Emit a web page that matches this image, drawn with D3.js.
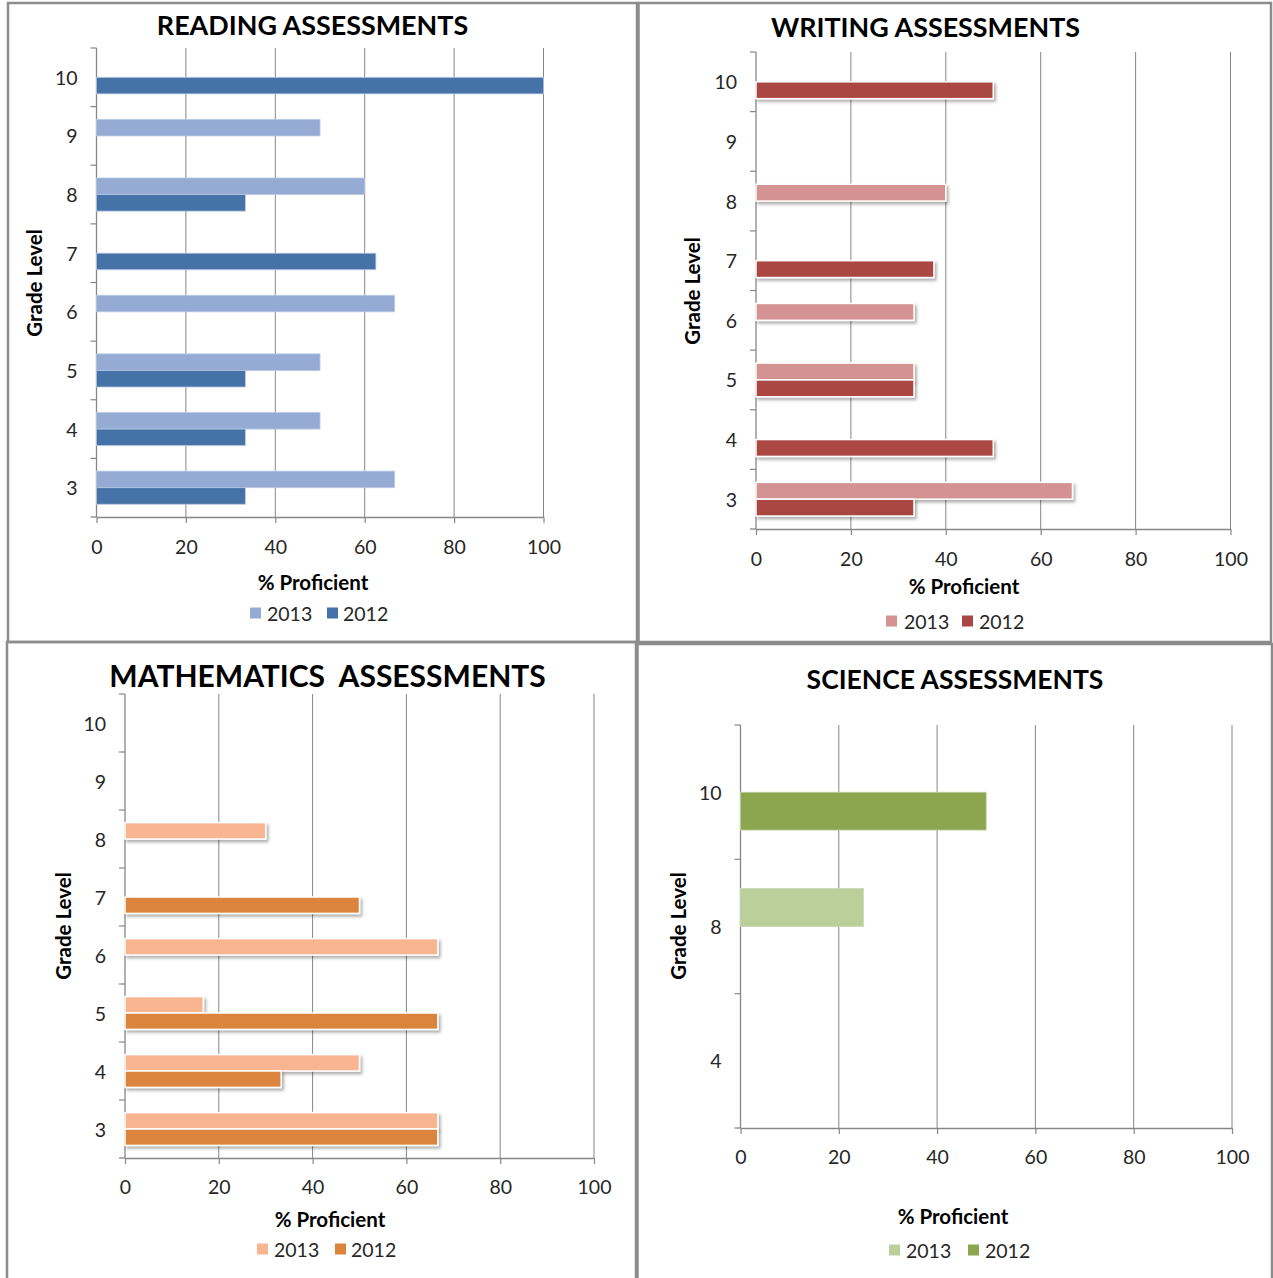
<!DOCTYPE html>
<html><head><meta charset="utf-8">
<script src="https://cdn.jsdelivr.net/npm/d3@7"></script>
<style>
body{margin:0;background:#fff}
svg{display:block}
text{font-family:Lato,"Open Sans","Noto Sans",sans-serif}
</style>
</head><body>
<svg id="c" width="1273" height="1278"></svg>
<script>
// ---- data ----
const seriesNames = ["2013", "2012"];
const xTicks = [0, 20, 40, 60, 80, 100];
const grades = [3, 4, 5, 6, 7, 8, 9, 10];
const reading2013 = [66.7, 50, 50, 66.7, null, 60, 50, null];
const reading2012 = [33.3, 33.3, 33.3, null, 62.5, 33.3, null, 100];
const writing2013 = [66.7, null, 33.3, 33.3, null, 40, null, null];
const writing2012 = [33.3, 50, 33.3, null, 37.5, null, null, 50];
const math2013 = [66.7, 50, 16.7, 66.7, null, 30, null, null];
const math2012 = [66.7, 33.3, 66.7, null, 50, null, null, null];
const scienceGrades = [4, 8, 10];
const science2013 = [null, 25, null];
const science2012 = [null, null, 50];

const svg = d3.select("#c");
const defs = svg.append("defs");
const f = defs.append("filter").attr("id", "sh").attr("x", "-10%").attr("y", "-50%").attr("width", "130%").attr("height", "250%");
f.append("feDropShadow").attr("dx", 2).attr("dy", 2.5).attr("stdDeviation", 1.6)
  .attr("flood-color", "#000").attr("flood-opacity", 0.32);

const GRID = "#878787";

function panel(c) {
  const g = svg.append("g");
  // frame
  g.append("rect").attr("x", c.frame[0]).attr("y", c.frame[1])
    .attr("width", c.frame[2] - c.frame[0]).attr("height", c.frame[3] - c.frame[1])
    .attr("fill", "none").attr("stroke", "#8c8c8c").attr("stroke-width", 2.5);

  const x = d3.scaleLinear().domain([0, 100]).range([c.left, c.right]);
  const y = d3.scaleBand().domain(c.grades.slice().reverse()).range([c.top, c.bottom]).paddingInner(0).paddingOuter(0);
  const bw = y.bandwidth();
  const pair = bw * 0.565;
  const inner = d3.scaleBand().domain(seriesNames).range([(bw - pair) / 2, (bw + pair) / 2]);

  // gridlines
  g.append("g").selectAll("line").data(xTicks.slice(1)).join("line")
    .attr("x1", d => x(d)).attr("x2", d => x(d))
    .attr("y1", c.top).attr("y2", c.bottom)
    .attr("stroke", GRID).attr("stroke-width", 1);

  // x axis
  const xa = g.append("g").attr("transform", `translate(0,${c.bottom})`)
    .call(d3.axisBottom(x).tickValues(xTicks).tickSize(6).tickSizeOuter(0).tickPadding(8));
  xa.select(".domain").attr("stroke", GRID).attr("stroke-width", 1.3);
  xa.selectAll(".tick line").attr("stroke", GRID).attr("stroke-width", 1.2);
  xa.selectAll("text").attr("font-size", 19.5).attr("fill", "#262626")
    .attr("dy", null).attr("y", c.xlabOff)
    .attr("dominant-baseline", "central");

  // bottom-left tick
  g.append("line").attr("x1", c.left - 6).attr("x2", c.left).attr("y1", c.bottom).attr("y2", c.bottom)
    .attr("stroke", GRID).attr("stroke-width", 1.3);

  // y axis
  const ya = g.append("g").attr("transform", `translate(${c.left},0)`)
    .call(d3.axisLeft(y).tickSize(0).tickPadding(19));
  ya.select(".domain").remove();
  ya.selectAll("text").attr("font-size", 19.5).attr("fill", "#262626").attr("dy", null)
    .attr("dominant-baseline", "central");
  g.append("line").attr("x1", c.left).attr("x2", c.left).attr("y1", c.top).attr("y2", c.bottom)
    .attr("stroke", GRID).attr("stroke-width", 1.3);
  const bounds = c.grades.map(d => y(d));
  g.append("g").selectAll("line").data(bounds).join("line")
    .attr("x1", c.left - 6).attr("x2", c.left).attr("y1", d => d).attr("y2", d => d)
    .attr("stroke", GRID).attr("stroke-width", 1.2);

  // bars
  const rows = [];
  c.grades.forEach((gr, i) => {
    seriesNames.forEach((s, j) => {
      const v = c.values[j][i];
      if (v != null) rows.push({ gr, s, v, j });
    });
  });
  const bars = g.append("g");
  bars.selectAll("rect").data(rows).join("rect")
    .attr("x", x(0))
    .attr("y", d => y(d.gr) + inner(d.s))
    .attr("width", d => x(d.v) - x(0))
    .attr("height", inner.bandwidth())
    .attr("fill", d => c.colors[d.j])
    .attr("stroke", c.shadow ? "#fff" : c.edge)
    .attr("stroke-width", c.shadow ? 1.5 : 0.8)
    .attr("filter", c.shadow ? "url(#sh)" : null);

  // titles
  g.append("text").attr("x", c.title[1]).attr("y", c.title[2]).attr("text-anchor", "middle")
    .attr("font-size", c.title[3]).attr("font-weight", 700).attr("fill", "#000")
    .style("white-space", "pre").text(c.title[0]);
  g.append("text").attr("transform", `translate(${c.ytitle[0]},${c.ytitle[1]}) rotate(-90)`)
    .attr("text-anchor", "middle").attr("dominant-baseline", "central")
    .attr("font-size", 20.5).attr("font-weight", 700).attr("fill", "#000").text("Grade Level");
  g.append("text").attr("x", c.xtitle[0]).attr("y", c.xtitle[1]).attr("text-anchor", "middle")
    .attr("dominant-baseline", "central")
    .attr("font-size", 20.5).attr("font-weight", 700).attr("fill", "#000").text("% Proficient");

  // legend
  const lg = g.append("g");
  seriesNames.forEach((s, j) => {
    lg.append("rect").attr("x", c.legend.sq[j]).attr("y", c.legend.y - 5.5)
      .attr("width", 11).attr("height", 11).attr("fill", c.colors[j]);
    lg.append("text").attr("x", c.legend.tx[j]).attr("y", c.legend.y)
      .attr("dominant-baseline", "central").attr("font-size", 19.5).attr("fill", "#262626").text(s);
  });
}

panel({
  frame: [8, 3, 637, 642],
  left: 96.5, right: 543.5, top: 48, bottom: 517,
  grades: grades, values: [reading2013, reading2012],
  colors: ["#95ABD4", "#4572A7"], edge: "#b9c8e4", shadow: false,
  title: ["READING ASSESSMENTS", 312.5, 35, 26.9],
  ytitle: [34, 283], xtitle: [313, 582], xlabOff: 29,
  legend: { y: 613, sq: [250, 327], tx: [267, 343] }
});
panel({
  frame: [638.5, 3, 1271, 642],
  left: 756, right: 1230.5, top: 52, bottom: 529,
  grades: grades, values: [writing2013, writing2012],
  colors: ["#D49392", "#AA4643"], shadow: true,
  title: ["WRITING ASSESSMENTS", 925.5, 37, 26.9],
  ytitle: [692, 291], xtitle: [964, 586], xlabOff: 29,
  legend: { y: 621, sq: [886, 962], tx: [904, 979] }
});
panel({
  frame: [7, 642, 636, 1282],
  left: 125, right: 594, top: 694, bottom: 1158,
  grades: grades, values: [math2013, math2012],
  colors: ["#F9B590", "#DB843D"], shadow: true,
  title: ["MATHEMATICS  ASSESSMENTS", 327.5, 687, 30],
  ytitle: [63, 926], xtitle: [330, 1219], xlabOff: 28,
  legend: { y: 1249, sq: [257, 335], tx: [274, 351] }
});
panel({
  frame: [637.5, 644, 1272, 1282],
  left: 740.5, right: 1232, top: 725, bottom: 1128,
  grades: scienceGrades, values: [science2013, science2012],
  colors: ["#BACF99", "#8BA64F"], edge: "#c9d9b0", shadow: false,
  title: ["SCIENCE ASSESSMENTS", 955, 689, 26.5],
  ytitle: [678, 926], xtitle: [953, 1216], xlabOff: 28,
  legend: { y: 1250, sq: [889, 968], tx: [906, 985] }
});
</script>
</body></html>
